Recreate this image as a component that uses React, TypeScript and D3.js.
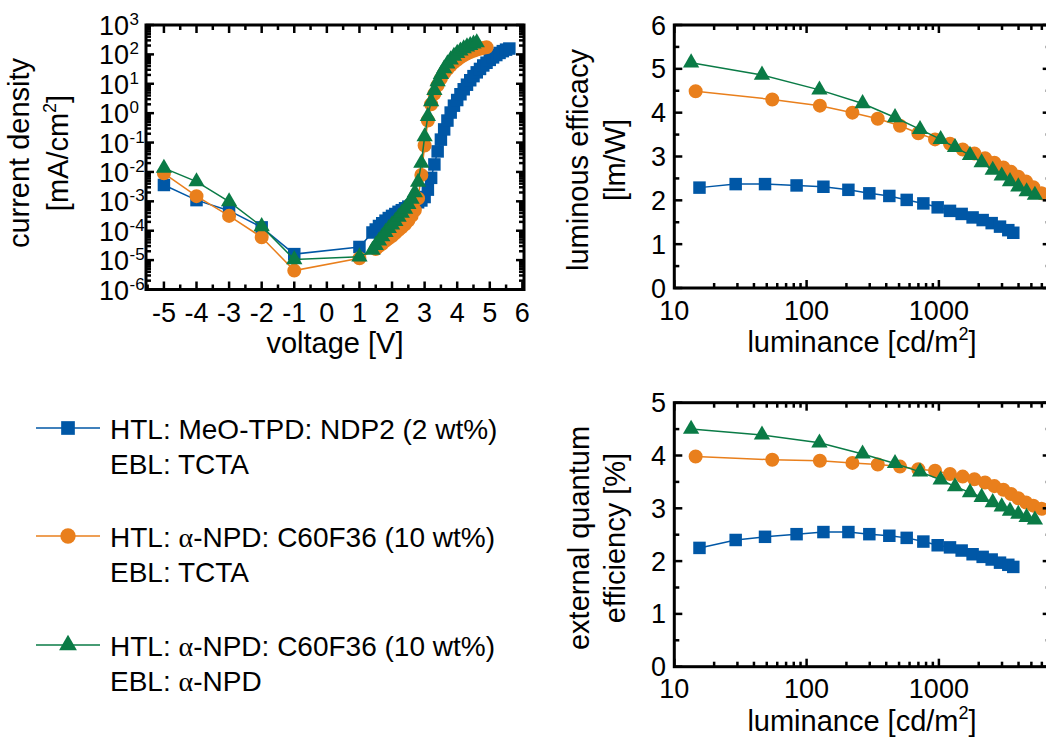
import React from 'react';
import * as d3 from 'd3';

const FONT = '"Liberation Sans", Arial, Helvetica, sans-serif';
const BLUE = '#0057a6';
const ORANGE = '#e97f1c';
const GREEN = '#0a7b46';

// ---------- current density vs voltage ----------
const blueV = [-5, -4, -3, -2, -1, 1, 1.4, 1.5, 1.6, 1.7, 1.8, 1.9, 2.0, 2.1, 2.2, 2.3, 2.4, 2.5, 2.6, 2.7, 2.8, 2.9, 3.0, 3.1, 3.2, 3.3, 3.4, 3.5, 3.6, 3.7, 3.8, 3.9, 4.0, 4.1, 4.2, 4.3, 4.4, 4.5, 4.6, 4.7, 4.8, 4.9, 5.0, 5.1, 5.2, 5.3, 5.4, 5.5, 5.6];
const blueJ = [3.6e-3, 1.1e-3, 4.8e-4, 1.3e-4, 1.6e-5, 2.8e-5, 8.7e-5, 1.1e-4, 1.45e-4, 1.8e-4, 2.2e-4, 2.7e-4, 3.2e-4, 3.7e-4, 4.4e-4, 5.0e-4, 5.8e-4, 6.6e-4, 7.4e-4, 8.3e-4, 9.3e-4, 1.07e-3, 1.4e-3, 2.5e-3, 6.3e-3, 1.8e-2, 5.0e-2, 0.126, 0.28, 0.56, 1.05, 1.8, 2.8, 4.4, 6.5, 9.3, 13.2, 18.2, 24.5, 32, 42, 52, 65, 79, 95, 112, 129, 145, 158];

const orangeV = [-5, -4, -3, -2, -1, 1, 1.5, 1.6, 1.7, 1.8, 1.9, 2.0, 2.1, 2.2, 2.3, 2.4, 2.5, 2.6, 2.7, 2.8, 2.9, 3.0, 3.1, 3.2, 3.3, 3.4, 3.5, 3.6, 3.7, 3.8, 3.9, 4.0, 4.1, 4.2, 4.3, 4.4, 4.5, 4.6, 4.7, 4.8, 4.9];
const orangeJ = [9e-3, 1.5e-3, 3.2e-4, 6e-5, 4.4e-6, 1.15e-5, 2.4e-5, 3.0e-5, 3.6e-5, 4.5e-5, 5.5e-5, 6.6e-5, 8.3e-5, 1.05e-4, 1.3e-4, 1.66e-4, 2.2e-4, 3.2e-4, 5.0e-4, 1.26e-3, 7.9e-3, 7.9e-2, 0.56, 2.0, 4.6, 8.9, 15, 23, 32, 42, 54, 66, 79, 93, 107, 120, 132, 145, 155, 166, 175];

const greenV = [-5, -4, -3, -2, -1, 1, 1.4, 1.5, 1.6, 1.7, 1.8, 1.9, 2.0, 2.1, 2.2, 2.3, 2.4, 2.5, 2.6, 2.7, 2.8, 2.9, 3.0, 3.1, 3.2, 3.3, 3.4, 3.5, 3.6, 3.7, 3.8, 3.9, 4.0, 4.1, 4.2, 4.3, 4.4, 4.5, 4.6];
const greenJ = [1.35e-2, 4.7e-3, 9.8e-4, 1.4e-4, 1.05e-5, 1.3e-5, 2.2e-5, 3.2e-5, 4.5e-5, 6.3e-5, 8.9e-5, 1.2e-4, 1.6e-4, 2.1e-4, 2.9e-4, 4.0e-4, 5.5e-4, 7.9e-4, 1.2e-3, 2.0e-3, 4.5e-3, 2.0e-2, 0.16, 0.79, 2.5, 6.0, 12, 21, 33, 48, 66, 87, 110, 132, 158, 182, 204, 229, 251];

// ---------- luminance data ----------
const blueL = [15.5, 29.1, 48.5, 84, 134, 207, 298, 422, 571, 763, 979, 1213, 1486, 1798, 2142, 2506, 2897, 3347, 3650];
const blueLE = [2.29, 2.37, 2.37, 2.34, 2.31, 2.24, 2.16, 2.10, 2.01, 1.93, 1.84, 1.76, 1.69, 1.61, 1.55, 1.48, 1.40, 1.32, 1.26];
const blueEQE = [2.25, 2.40, 2.46, 2.51, 2.55, 2.55, 2.51, 2.48, 2.44, 2.37, 2.30, 2.26, 2.20, 2.13, 2.08, 2.03, 1.97, 1.93, 1.89];

const orangeL = [14.5, 55, 126, 222, 345, 508, 699, 935, 1213, 1513, 1855, 2233, 2626, 3071, 3510, 3984, 4554, 5171, 5980];
const orangeLE = [4.49, 4.30, 4.16, 4.0, 3.86, 3.70, 3.53, 3.39, 3.29, 3.16, 3.07, 2.96, 2.86, 2.75, 2.65, 2.54, 2.43, 2.30, 2.16];
const orangeEQE = [3.98, 3.92, 3.90, 3.86, 3.83, 3.79, 3.74, 3.71, 3.65, 3.60, 3.55, 3.49, 3.42, 3.35, 3.27, 3.19, 3.11, 3.05, 2.99];

const greenL = [13.4, 46, 125, 265, 466, 720, 1031, 1324, 1718, 2104, 2552, 2985, 3446, 3984, 4603, 5317];
const greenLE = [5.14, 4.86, 4.52, 4.21, 3.89, 3.62, 3.39, 3.21, 3.03, 2.86, 2.69, 2.56, 2.43, 2.31, 2.20, 2.12];
const greenEQE = [4.50, 4.39, 4.24, 4.03, 3.85, 3.69, 3.54, 3.41, 3.30, 3.21, 3.11, 3.03, 2.95, 2.89, 2.83, 2.78];

// ---------- tick labels ----------
const voltageTicks = [-5, -4, -3, -2, -1, 0, 1, 2, 3, 4, 5, 6];
const currentExponents = [3, 2, 1, 0, -1, -2, -3, -4, -5, -6];
const luminanceTicks = [10, 100, 1000];
const efficacyTicks = [0, 1, 2, 3, 4, 5, 6];
const eqeTicks = [0, 1, 2, 3, 4, 5];

const legendEntries = [
  { color: BLUE, shape: 'square', l1: ['HTL: MeO-TPD: NDP2 (2 wt%)'], l2: ['EBL: TCTA'] },
  { color: ORANGE, shape: 'circle', l1: ['HTL: ', 'α', '-NPD: C60F36 (10 wt%)'], l2: ['EBL: TCTA'] },
  { color: GREEN, shape: 'triangle', l1: ['HTL: ', 'α', '-NPD: C60F36 (10 wt%)'], l2: ['EBL: ', 'α', '-NPD'] },
];

type Shape = 'square' | 'circle' | 'triangle';

function symbolPath(shape: Shape, scale = 1) {
  const t = shape === 'square' ? d3.symbolSquare : shape === 'circle' ? d3.symbolCircle : d3.symbolTriangle;
  const s = shape === 'square' ? 156 : shape === 'circle' ? 154 : 115;
  return d3.symbol().type(t).size(s * scale)() as string;
}

function SeriesView({ xs, ys, x, y, color, shape }: any) {
  const pts = xs.map((v: number, i: number) => [x(v), y(ys[i])] as [number, number]);
  const line = d3.line()(pts) as string;
  const p = symbolPath(shape);
  return (
    <g>
      <path d={line} fill="none" stroke={color} strokeWidth={1.5} />
      {pts.map((q, i) => (
        <path key={i} d={p} transform={`translate(${q[0]},${q[1]})`} fill={color} />
      ))}
    </g>
  );
}

function Frame({ x, y, xMajor, xMinor, yMajor, yMinor }: any) {
  const [xl, xr] = x.range();
  const [yb, yt] = y.range();
  const M = 8, m = 5;
  const lines: any[] = [];
  xMajor.forEach((v: number) => {
    const px = x(v);
    lines.push([px, yb, px, yb - M]);
    lines.push([px, yt, px, yt + M]);
  });
  xMinor.forEach((v: number) => {
    const px = x(v);
    lines.push([px, yb, px, yb - m]);
    lines.push([px, yt, px, yt + m]);
  });
  yMajor.forEach((v: number) => {
    const py = y(v);
    lines.push([xl, py, xl + M, py]);
    lines.push([xr, py, xr - M, py]);
  });
  yMinor.forEach((v: number) => {
    const py = y(v);
    lines.push([xl, py, xl + m, py]);
    lines.push([xr, py, xr - m, py]);
  });
  return (
    <g>
      {lines.map((l, i) => (
        <line key={i} x1={l[0]} y1={l[1]} x2={l[2]} y2={l[3]} stroke="#000" strokeWidth={2.5} />
      ))}
      <rect x={xl} y={yt} width={xr - xl} height={yb - yt} fill="none" stroke="#000" strokeWidth={3} />
    </g>
  );
}

export default function App() {
  // J-V panel
  const xV = d3.scaleLinear().domain([-5.55, 6.05]).range([146, 524]);
  const yJ = d3.scaleLog().domain([1e-6, 1e3]).range([289.5, 25]);
  const jMinor: number[] = [];
  for (let e = -6; e < 3; e++) for (let k = 2; k <= 9; k++) jMinor.push(k * Math.pow(10, e));
  const vMinor = d3.range(-5.5, 6.01, 1);

  // luminance panels
  const xL = d3.scaleLog().domain([10, 7000]).range([674.3, 1050.7]);
  const lMinor: number[] = [];
  [10, 100, 1000].forEach((d) => { for (let k = 2; k <= 9; k++) if (k * d < 7000) lMinor.push(k * d); });
  const yLE = d3.scaleLinear().domain([0, 6]).range([288, 25]);
  const yEQE = d3.scaleLinear().domain([0, 5]).range([666.7, 402.7]);
  const leMinor = d3.range(0.5, 6, 1);
  const eqeMinor = d3.range(0.5, 5, 1);

  const TICK = 27;
  const TITLE = 29;

  const legendY = [428, 536, 645];

  return (
    <svg width={1046} height={740} style={{ position: 'absolute', left: 0, top: 0, background: '#fff' }} fontFamily={FONT}>
      <rect x={0} y={0} width={1046} height={740} fill="#fff" />

      {/* ---------------- J-V ---------------- */}
      <SeriesView xs={blueV} ys={blueJ} x={xV} y={yJ} color={BLUE} shape="square" />
      <SeriesView xs={orangeV} ys={orangeJ} x={xV} y={yJ} color={ORANGE} shape="circle" />
      <SeriesView xs={greenV} ys={greenJ} x={xV} y={yJ} color={GREEN} shape="triangle" />
      <Frame x={xV} y={yJ} xMajor={voltageTicks} xMinor={vMinor} yMajor={currentExponents.map((e) => Math.pow(10, e))} yMinor={jMinor} />
      {voltageTicks.map((v) => (
        <text key={v} x={xV(v)} y={322} fontSize={TICK} textAnchor="middle">{v}</text>
      ))}
      {currentExponents.map((e) => (
        <g key={e}>
          <text x={129} y={yJ(Math.pow(10, e)) + 10} fontSize={TICK} textAnchor="end">10</text>
          <text x={129.5} y={yJ(Math.pow(10, e)) + 0} fontSize={17} textAnchor="start">{e}</text>
        </g>
      ))}
      <text x={335} y={353} fontSize={TITLE} textAnchor="middle">voltage [V]</text>
      <text transform="translate(29,153) rotate(-90)" fontSize={TITLE} textAnchor="middle">current density</text>
      <text transform="translate(68,153) rotate(-90)" fontSize={TITLE} textAnchor="middle">
        <tspan>[mA/cm</tspan>
        <tspan dy={-12} fontSize={18}>2</tspan>
        <tspan dy={12}>]</tspan>
      </text>

      {/* ---------------- luminous efficacy ---------------- */}
      <SeriesView xs={blueL} ys={blueLE} x={xL} y={yLE} color={BLUE} shape="square" />
      <SeriesView xs={orangeL} ys={orangeLE} x={xL} y={yLE} color={ORANGE} shape="circle" />
      <SeriesView xs={greenL} ys={greenLE} x={xL} y={yLE} color={GREEN} shape="triangle" />
      <Frame x={xL} y={yLE} xMajor={luminanceTicks} xMinor={lMinor} yMajor={efficacyTicks} yMinor={leMinor} />
      {luminanceTicks.map((v) => (
        <text key={v} x={xL(v)} y={320} fontSize={TICK} textAnchor="middle">{v}</text>
      ))}
      {efficacyTicks.map((v) => (
        <text key={v} x={666} y={yLE(v) + 9.5} fontSize={TICK} textAnchor="end">{v}</text>
      ))}
      <text x={862} y={352} fontSize={TITLE} textAnchor="middle">
        <tspan>luminance [cd/m</tspan>
        <tspan dy={-12} fontSize={18}>2</tspan>
        <tspan dy={12}>]</tspan>
      </text>
      <text transform="translate(588,160) rotate(-90)" fontSize={TITLE} textAnchor="middle">luminous efficacy</text>
      <text transform="translate(625,160) rotate(-90)" fontSize={TITLE} textAnchor="middle">[lm/W]</text>

      {/* ---------------- EQE ---------------- */}
      <SeriesView xs={blueL} ys={blueEQE} x={xL} y={yEQE} color={BLUE} shape="square" />
      <SeriesView xs={orangeL} ys={orangeEQE} x={xL} y={yEQE} color={ORANGE} shape="circle" />
      <SeriesView xs={greenL} ys={greenEQE} x={xL} y={yEQE} color={GREEN} shape="triangle" />
      <Frame x={xL} y={yEQE} xMajor={luminanceTicks} xMinor={lMinor} yMajor={eqeTicks} yMinor={eqeMinor} />
      {luminanceTicks.map((v) => (
        <text key={v} x={xL(v)} y={698} fontSize={TICK} textAnchor="middle">{v}</text>
      ))}
      {eqeTicks.map((v) => (
        <text key={v} x={666} y={yEQE(v) + 9.5} fontSize={TICK} textAnchor="end">{v}</text>
      ))}
      <text x={862} y={731} fontSize={TITLE} textAnchor="middle">
        <tspan>luminance [cd/m</tspan>
        <tspan dy={-12} fontSize={18}>2</tspan>
        <tspan dy={12}>]</tspan>
      </text>
      <text transform="translate(589,538) rotate(-90)" fontSize={TITLE} textAnchor="middle">external quantum</text>
      <text transform="translate(625,538) rotate(-90)" fontSize={TITLE} textAnchor="middle">efficiency [%]</text>

      {/* ---------------- legend ---------------- */}
      {legendEntries.map((e, i) => {
        const y0 = legendY[i];
        const parts = (arr: string[]) =>
          arr.map((s, k) => (
            <tspan key={k} fontFamily={s === 'α' ? '"Liberation Serif", "DejaVu Serif", serif' : undefined}>{s}</tspan>
          ));
        return (
          <g key={i}>
            <line x1={36} x2={100} y1={y0} y2={y0} stroke={e.color} strokeWidth={1.5} />
            <path d={symbolPath(e.shape as Shape, 1.2)} transform={`translate(68,${y0})`} fill={e.color} />
            <text x={110} y={y0 + 11} fontSize={28}>{parts(e.l1)}</text>
            <text x={110} y={y0 + 46} fontSize={28}>{parts(e.l2)}</text>
          </g>
        );
      })}
    </svg>
  );
}
